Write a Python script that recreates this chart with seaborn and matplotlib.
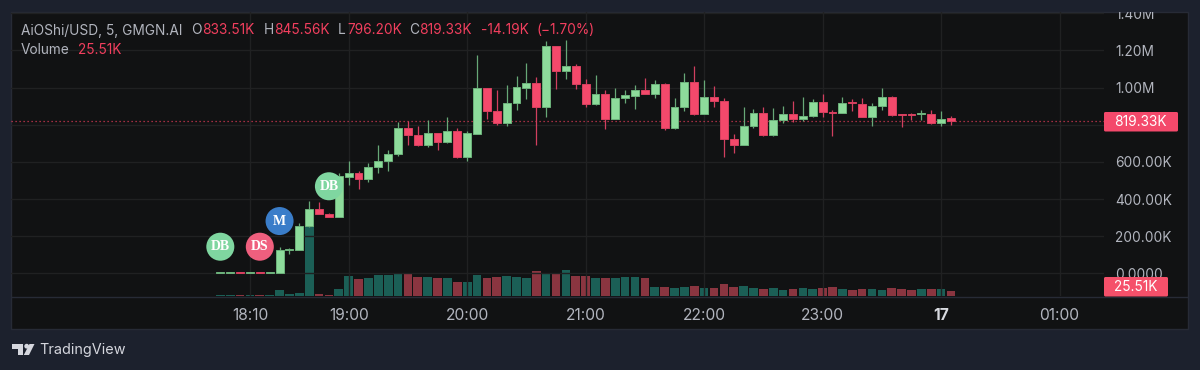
import numpy as np
import pandas as pd
import matplotlib.pyplot as plt
import seaborn as sns
from matplotlib.patches import Rectangle, Polygon, Circle, FancyBboxPatch
from matplotlib.transforms import Bbox

# OHLC in thousands
opens = [2, 2, 8, 2, 8, 2, 3, 126, 126, 254, 347, 322, 302, 521, 540, 508, 574, 605, 642, 782,
         746, 693, 757, 705, 768, 626, 752, 997, 872, 807, 918, 999, 1022, 895, 1225, 1090, 1114, 1019, 911, 967,
         831, 943, 956, 985, 965, 1020, 784, 897, 1031, 859, 947, 929, 721, 693, 793, 861, 745, 825, 857, 832,
         847, 922, 870, 861, 922, 913, 843, 900, 951, 857, 857, 855, 855, 807, 833.51]
closes = [8, 8, 2, 8, 2, 8, 126, 131, 257, 347, 320, 302, 522, 540, 508, 574, 606, 642, 782, 746,
          693, 757, 705, 768, 626, 754, 997, 872, 807, 918, 1001, 1022, 895, 1225, 1090, 1114, 1019, 911, 967, 831,
          943, 958, 985, 965, 1019, 784, 897, 1031, 859, 947, 927, 721, 693, 795, 861, 745, 825, 857, 832, 849,
          922, 866, 865, 917, 915, 843, 900, 951, 852, 854, 854, 861, 807, 829, 819.33]
highs = [8, 8, 8, 8, 8, 8, 144, 135, 273, 388, 384, 327, 542, 607, 551, 592, 691, 662, 816, 822,
         793, 825, 757, 840, 782, 766, 1173, 997, 986, 1011, 1063, 1130, 1056, 1250, 1225, 1255, 1126, 1047, 1065, 986,
         997, 988, 1011, 1051, 1042, 1022, 945, 1076, 1114, 1038, 1008, 942, 750, 895, 883, 895, 892, 899, 929, 951,
         938, 967, 877, 951, 936, 945, 915, 997, 954, 857, 861, 877, 881, 874, 845.56]
lows = [2, 2, 2, 2, 2, 2, 3, 105, 126, 248, 320, 302, 302, 474, 456, 490, 540, 549, 630, 693,
        687, 682, 664, 703, 621, 607, 752, 830, 798, 795, 877, 940, 693, 843, 992, 1047, 990, 897, 904, 779,
        829, 918, 886, 965, 945, 770, 779, 874, 852, 859, 895, 626, 650, 693, 784, 739, 739, 807, 816, 822,
        843, 843, 741, 861, 875, 839, 795, 879, 845, 789, 823, 825, 802, 795, 796.2]
volumes = [4, 4, 4, 4, 4, 4, 31, 12, 15, 357, 10, 7, 36, 102, 87, 94, 107, 105, 114, 116,
           99, 99, 94, 90, 70, 73, 107, 94, 97, 104, 97, 90, 126, 114, 119, 133, 102, 104, 94, 90,
           94, 97, 97, 94, 48, 48, 39, 46, 51, 43, 43, 63, 48, 51, 43, 37, 41, 31, 37, 41,
           37, 41, 48, 37, 31, 37, 37, 31, 41, 37, 31, 36, 36, 36, 25.51]

price_ticks = [0, 200, 400, 600, 800, 1000, 1200, 1400]
# 800K sits behind the price tag in the reference, so it shows no text
price_labels = ['0.0000', '200.00K', '400.00K', '600.00K', '', '1.00M', '1.20M', '1.40M']
time_ticks = [3, 13, 25, 37, 49, 61, 73, 85]
time_labels = ['18:10', '19:00', '20:00', '21:00', '22:00', '23:00', '17', '01:00']

# signal bubbles: candle index, price, text
signal_idx = [0, 4, 6, 11]
signal_price = [144, 144, 282, 469]
signal_text = ['DB', 'DS', 'M', 'DB']
signal_colors = ['#7fd6a0', '#ef5f7e', '#3a7dc9', '#7fd6a0']

BG = '#1c212d'
PANEL = '#111213'
BORDER = '#272b36'
GRID = '#202122'
UP = '#8ddb9b'
DOWN = '#f4496b'
UP_WICK = '#67a877'
DOWN_WICK = '#d13f5f'
UP_VOL = '#1b5f56'
DOWN_VOL = '#8a3540'
TEXT = '#b2b5be'
RED_TEXT = '#f23f5e'
FS = 9.85

sns.set_theme(style='dark')
plt.rcParams['font.family'] = ['Inter', 'DejaVu Sans']

df = pd.DataFrame({'i': np.arange(len(opens)), 'open': opens, 'close': closes,
                   'high': highs, 'low': lows, 'volume': volumes})
df['dir'] = np.where(df['close'] >= df['open'], 'up', 'down')
df['body'] = (df['close'] - df['open']).abs()
df['base'] = df[['open', 'close']].min(axis=1)

W, H = 1200, 370
fig = plt.figure(figsize=(W / 100, H / 100), dpi=100, facecolor=BG)


def px_rect(x0, y0, x1, y1):
    return [x0 / W, 1 - y1 / H, (x1 - x0) / W, (y1 - y0) / H]


# background panel, pixel coordinates
back = fig.add_axes([0, 0, 1, 1], zorder=0)
back.set_xlim(0, W)
back.set_ylim(H, 0)
back.axis('off')
back.add_patch(Rectangle((11, 12), 1177, 317, fc=PANEL, ec=BORDER, lw=1))
back.plot([11, 1188], [296.8, 296.8], color=BORDER, lw=1)

rect = px_rect(11, 12, 1104, 296)
xlim = (-21.2, 89.5)
ylim = (-121, 1406)

# volume underneath
ax_vol = fig.add_axes(rect, zorder=1)
ax_vol.patch.set_visible(False)
sns.barplot(data=df, x='i', y='volume', hue='dir', hue_order=['up', 'down'],
            palette={'up': UP_VOL, 'down': DOWN_VOL}, native_scale=True, dodge=False,
            legend=False, width=0.88, saturation=1, errorbar=None, linewidth=0, ax=ax_vol)
ax_vol.set_xlim(xlim)
ax_vol.set_ylim(0, 1448)
ax_vol.axis('off')

# candles
ax = fig.add_axes(rect, zorder=2)
ax.patch.set_visible(False)
for d, col, wick, edge in [('up', UP, UP_WICK, '#6cb27b'), ('down', DOWN, DOWN_WICK, '#d8405f')]:
    sub = df[df['dir'] == d]
    ax.vlines(sub['i'], sub['low'], sub['high'], color=wick, lw=0.9, zorder=3)
    sns.barplot(data=sub, x='i', y='body', bottom=sub['base'].values, color=col, native_scale=True,
                width=0.8, saturation=1, errorbar=None, edgecolor=edge, linewidth=0.7, zorder=4, ax=ax)
ax.axhline(closes[-1], color=RED_TEXT, lw=0.9, ls=(0, (1, 2.2)), alpha=0.85, zorder=2)
ax.scatter(signal_idx, signal_price, s=407, c=signal_colors, linewidths=0, zorder=6)
for i, p, t in zip(signal_idx, signal_price, signal_text):
    ax.text(i, p, t, color='white', fontsize=10, fontweight='bold', family='Liberation Serif',
            ha='center', va='center', zorder=7)

ax.set_xlim(xlim)
ax.set_ylim(ylim)
ax.set_xlabel('')
ax.set_ylabel('')
ax.set_axisbelow(True)
ax.grid(True, color=GRID, lw=1)
for s in ax.spines.values():
    s.set_visible(False)
ax.yaxis.tick_right()
ax.set_yticks(price_ticks, price_labels)
ax.set_xticks(time_ticks, time_labels)
ax.tick_params(axis='y', length=0, labelsize=FS, colors=TEXT, pad=8)
ax.tick_params(axis='x', length=0, labelsize=11.2, colors=TEXT, pad=9)
# the 17 marks the new day
ax.get_xticklabels()[6].set_fontweight('bold')
ax.get_xticklabels()[6].set_color('#d8dae0')
# top label is cut off by the panel edge
clip = Bbox([[0, 0], [W, H - 12]])
for lab in ax.get_yticklabels():
    lab.set_clip_on(True)
    lab.set_clip_box(clip)

# overlay for header, price tags and logo
top = fig.add_axes([0, 0, 1, 1], zorder=3)
top.patch.set_visible(False)
top.set_xlim(0, W)
top.set_ylim(H, 0)
top.axis('off')

header = [(21, 'AiOShi/USD, 5, GMGN.AI', TEXT), (191, 'O', TEXT), (202, '833.51K', RED_TEXT),
          (264, 'H', TEXT), (274, '845.56K', RED_TEXT), (338, 'L', TEXT), (347, '796.20K', RED_TEXT),
          (409, 'C', TEXT), (419, '819.33K', RED_TEXT), (481, '-14.19K', RED_TEXT), (536, '(−1.70%)', RED_TEXT)]
for x, s, c in header:
    top.text(x, 30.5, s, color=c, fontsize=FS, va='center')
top.text(21, 50.5, 'Volume', color=TEXT, fontsize=FS, va='center')
top.text(78, 50.5, '25.51K', color=RED_TEXT, fontsize=FS, va='center')

for x0, y0, x1, y1, s, c in [(1104, 112, 1178, 131.5, '819.33K', '#f4496b'),
                             (1104, 277, 1168, 296.5, '25.51K', '#f5506a')]:
    top.add_patch(FancyBboxPatch((x0, y0), x1 - x0, y1 - y0, boxstyle='round,pad=0,rounding_size=1.5',
                                 fc=c, ec='none'))
    top.text(1114, (y0 + y1) / 2 + 0.2, s, color='white', fontsize=FS, va='center')

# TradingView logo
LOGO = '#d5d7de'
top.add_patch(Polygon([(12, 344), (23, 344), (23, 355), (17.5, 355), (17.5, 348.5), (12, 348.5)], fc=LOGO, ec='none'))
top.add_patch(Circle((26.7, 346.2), 2.4, fc=LOGO, ec='none'))
top.add_patch(Polygon([(29.5, 344), (34.5, 344), (29, 355), (23.8, 355)], fc=LOGO, ec='none'))
top.text(39, 350, 'TradingView', color=LOGO, fontsize=10.4, va='center')

fig.savefig('out.png', dpi=100, facecolor=BG)
